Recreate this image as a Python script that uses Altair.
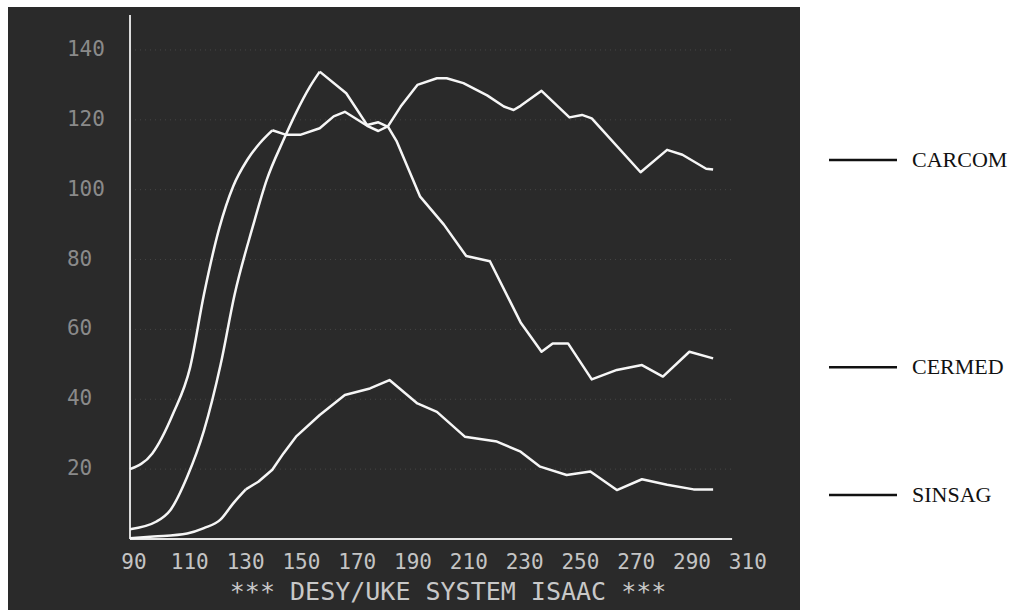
import altair as alt
import pandas as pd

# ---------------- data ----------------
series_names = ["CARCOM", "CERMED", "SINSAG"]

carcom_x = [90, 98, 105.5, 111.5, 116.5, 122, 127, 132, 136.5, 141, 146, 151, 158, 163, 167,
            175, 179, 182.5, 187, 193, 200, 203.5, 209.5, 218, 224, 227.5, 230, 237.5, 247.5,
            252, 255.5, 273, 282.5, 288, 296.5, 299]
carcom_y = [20, 24.5, 36, 49, 70, 89, 101, 108.5, 113.3, 117, 115.7, 115.7, 117.6, 121, 122.3,
            118.3, 116.8, 118.2, 123.8, 130, 131.9, 131.9, 130.5, 127, 123.8, 122.8, 124, 128.3, 120.7,
            121.4, 120.4, 105, 111.4, 110, 106, 105.8]

cermed_x = [90, 99.5, 104.5, 110.5, 116.5, 122.5, 127.5, 134, 139, 145, 149.5, 154.5, 158,
            167.5, 175, 179, 182.5, 185.5, 194, 202.5, 210.5, 219, 226, 230, 237.5, 241.5, 247,
            255.5, 264.5, 273.5, 281, 290.5, 299]
cermed_y = [2.8, 5, 8.3, 17.8, 31, 50, 70, 89.4, 102.8, 114.2, 122, 129.5, 133.8,
            127.6, 118.5, 119.3, 118, 114, 98, 90, 81, 79.5, 68.4, 62, 53.6, 56, 56,
            45.7, 48.4, 49.8, 46.5, 53.6, 51.7]

sinsag_x = [90, 98.5, 110.5, 116.5, 122.5, 127, 131.5, 136, 141, 145, 149.5, 158, 167, 176,
            183, 193, 200, 210, 221.5, 230, 237, 246.5, 255, 264.5, 273.5, 282.5, 292, 299]
sinsag_y = [0.2, 0.7, 1.6, 3.1, 5.6, 10.2, 14.2, 16.4, 19.8, 24.5, 29.3, 35.5, 41.2, 43.1,
            45.5, 38.8, 36.4, 29.3, 27.9, 25, 20.7, 18.3, 19.3, 14, 17.1, 15.5, 14.2, 14.2]

x_tick_values = [90, 110, 130, 150, 170, 190, 210, 230, 250, 270, 290, 310]
y_tick_values = [20, 40, 60, 80, 100, 120, 140]
bottom_title = "*** DESY/UKE SYSTEM ISAAC ***"

# ---------------- layout (data units of the screen) ----------------
X_DOMAIN = [46.27, 330.14]
Y_DOMAIN = [-20.33, 152.3]
AXIS_X_END = 305.8
AXIS_Y_END = 150.0
XLABEL_Y = -6.9
TITLE_Y = -15.2
TITLE_X = 204
YLABEL_X = 67.4
legend_y = [108.5, 49.2, 12.6]
# the smoothly drawn rise of each trace ends at this x (sharp CRT segments after it)
smooth_until = [141, 158, 131.5]

rows = []
for name, xs_, ys_, lim in zip(series_names, [carcom_x, cermed_x, sinsag_x],
                               [carcom_y, cermed_y, sinsag_y], smooth_until):
    for i, (a, b) in enumerate(zip(xs_, ys_)):
        rows.append({"series": name, "x": a, "y": b, "order": i,
                     "rise": a <= lim, "rest": a >= lim})
df = pd.DataFrame(rows)

xs = alt.Scale(domain=X_DOMAIN, nice=False, zero=False)
ys = alt.Scale(domain=Y_DOMAIN, nice=False, zero=False)


def X(field, **kw):
    return alt.X(field, type="quantitative", scale=xs, axis=None, **kw)


def Y(field, **kw):
    return alt.Y(field, type="quantitative", scale=ys, axis=None, **kw)


# grid lines (faint dotted)
grid_df = pd.DataFrame({"y": y_tick_values, "x": [90] * len(y_tick_values),
                        "x2": [AXIS_X_END] * len(y_tick_values)})
grid = alt.Chart(grid_df).mark_rule(color="#9a9a9a", strokeWidth=1, strokeDash=[1, 4],
                                    opacity=0.25).encode(x=X("x"), x2="x2", y=Y("y"))

# axes
xaxis = alt.Chart(pd.DataFrame({"x": [90], "x2": [AXIS_X_END], "y": [0]})).mark_rule(
    color="#e6e6e6", strokeWidth=1.8).encode(x=X("x"), x2="x2", y=Y("y"))
yaxis = alt.Chart(pd.DataFrame({"x": [90], "y": [0], "y2": [AXIS_Y_END]})).mark_rule(
    color="#f0f0f0", strokeWidth=1.8).encode(x=X("x"), y=Y("y"), y2="y2")

# curves: smooth rise, then straight CRT segments
base = alt.Chart(df)
rise = base.transform_filter("datum.rise").mark_line(
    color="#f6f6f6", strokeWidth=2.5, interpolate="monotone").encode(
    x=X("x"), y=Y("y"), detail="series:N", order="order:Q")
rest = base.transform_filter("datum.rest").mark_line(
    color="#f6f6f6", strokeWidth=2.5, strokeJoin="round").encode(
    x=X("x"), y=Y("y"), detail="series:N", order="order:Q")

# tick labels
xlab_df = pd.DataFrame({"x": x_tick_values, "y": [XLABEL_Y] * len(x_tick_values),
                        "t": [str(v) for v in x_tick_values]})
xlabels = alt.Chart(xlab_df).mark_text(font="DejaVu Sans Mono", fontSize=21, color="#c4c4c4",
                                       align="center", baseline="middle", dx=4).encode(
    x=X("x"), y=Y("y"), text="t:N")

ylab_df = pd.DataFrame({"x": [YLABEL_X] * len(y_tick_values), "y": y_tick_values,
                        "t": [str(v) for v in y_tick_values]})
ylabels = alt.Chart(ylab_df).mark_text(font="DejaVu Sans Mono", fontSize=21, color="#8a8a8a",
                                       align="left", baseline="middle").encode(
    x=X("x"), y=Y("y"), text="t:N")

title = alt.Chart(pd.DataFrame({"x": [TITLE_X], "y": [TITLE_Y], "t": [bottom_title]})).mark_text(
    font="DejaVu Sans Mono", fontSize=25, color="#c8c8c8", align="center",
    baseline="middle").encode(x=X("x"), y=Y("y"), text="t:N")

# legend on the paper, right of the screen
leg_df = pd.DataFrame({"series": series_names, "y": legend_y})
leg_lines = alt.Chart(leg_df).mark_rule(color="#111111", strokeWidth=2.5).encode(
    x=alt.value(821), x2=alt.value(889), y=Y("y"))
leg_text = alt.Chart(leg_df).mark_text(font="Liberation Serif", fontSize=22, color="#111111",
                                       align="left", baseline="middle").encode(
    x=alt.value(904), y=Y("y"), text="series:N")

chart = alt.layer(grid, xaxis, yaxis, rise, rest, xlabels, ylabels, title, leg_lines,
                  leg_text).properties(
    width=792, height=603,
    autosize=alt.AutoSizeParams(type="none"),
    padding={"left": 8, "top": 7, "right": 215, "bottom": 6},
    background="white",
).configure_view(fill="#2a2a2a", stroke=None)

chart.save("out.html", embed_options={"renderer": "svg", "actions": False})
